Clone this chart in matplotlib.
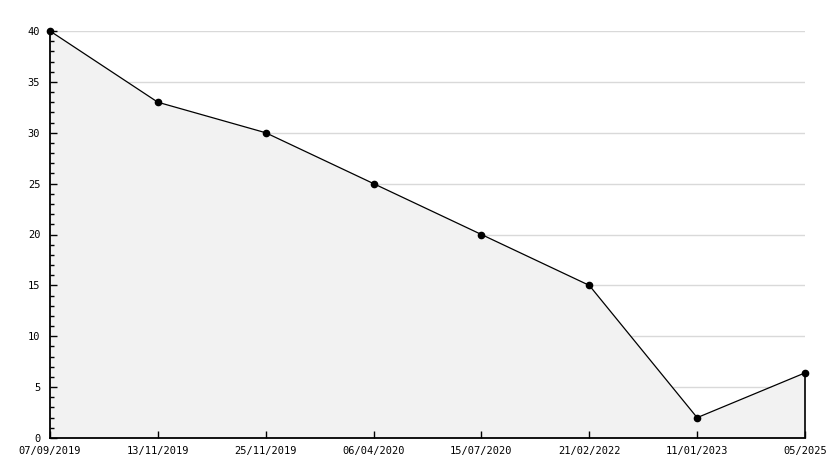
import matplotlib
matplotlib.use("Agg")
import matplotlib.pyplot as plt
from matplotlib.ticker import MultipleLocator

dates = ["07/09/2019", "13/11/2019", "25/11/2019", "06/04/2020", "15/07/2020",
         "21/02/2022", "11/01/2023", "05/2025"]
values = [40, 33, 30, 25, 20, 15, 2, 6.4]

plt.rcParams['font.family'] = ['DejaVu Sans Mono']
fig = plt.figure(figsize=(8.34, 4.68), dpi=100)
ax = fig.add_axes([50/834, 30/468, 755/834, 407/468])

x = list(range(len(dates)))
ax.set_xlim(0, len(dates) - 1)
ax.set_ylim(0, 40)

for yv in range(5, 41, 5):
    ax.axhline(yv, color="#d9d9d9", lw=1, zorder=0)

ax.fill_between(x, values, 0, color="#f2f2f2", zorder=1, lw=0)
ax.plot(x, values, color="black", lw=0.9, zorder=5, clip_on=False,
        marker="o", markersize=4.5, markerfacecolor="black", markeredgecolor="black")
ax.vlines(x[-1], 0, values[-1], color="black", lw=1.2, zorder=5, clip_on=False)

for s in ["top", "right"]:
    ax.spines[s].set_visible(False)
for s in ["left", "bottom"]:
    ax.spines[s].set_linewidth(1.3)
    ax.spines[s].set_zorder(4)

ax.set_xticks(x)
ax.set_xticklabels(dates)
ax.yaxis.set_major_locator(MultipleLocator(5))
ax.yaxis.set_minor_locator(MultipleLocator(1))
ax.tick_params(axis="y", which="major", direction="in", length=5, width=1, pad=7, labelsize=7.5)
ax.tick_params(axis="y", which="minor", direction="in", length=3, width=1)
ax.tick_params(axis="x", which="major", direction="in", length=5, width=1, pad=6, labelsize=7.5)

fig.savefig("out.png", dpi=100)
